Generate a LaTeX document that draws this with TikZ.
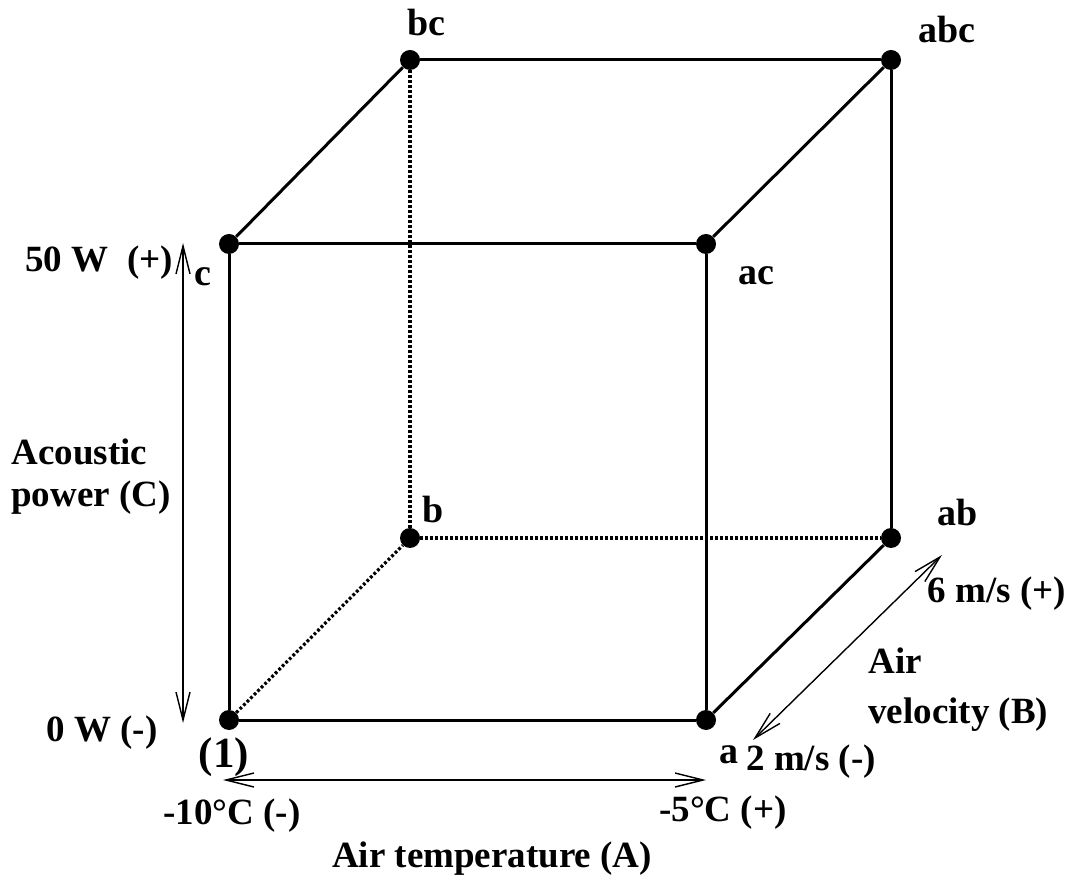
\documentclass[tikz,border=0pt]{standalone}
\usepackage{fontspec}
\setmainfont{Liberation Serif}
\usetikzlibrary{arrows.meta,positioning}

\begin{document}
\begin{tikzpicture}[
  x=0.5pt, y=-0.5pt,
  vertex/.style={circle, fill, inner sep=0pt, minimum size=10pt},
  vertex label/.style={font=\bfseries\fontsize{19}{22}\selectfont, inner sep=0pt},
  axis label/.style={font=\bfseries\fontsize{18.5}{21}\selectfont, inner sep=0pt, align=left},
  edge/.style={line width=1.5pt},
  hidden edge/.style={line width=1.6pt, dash pattern=on 1.4pt off 1.1pt},
  range arrow/.style={<->, line width=0.7pt},
  >={Straight Barb[length=14pt, width=7pt]}
]
  \useasboundingbox (0,0) rectangle (1065,881);

  % corners of the cube
  \node[vertex] (v1)  at (229,720) {};
  \node[vertex] (a)   at (706,720) {};
  \node[vertex] (b)   at (410,538) {};
  \node[vertex] (ab)  at (891,538) {};
  \node[vertex] (c)   at (229,244) {};
  \node[vertex] (ac)  at (706,244) {};
  \node[vertex] (bc)  at (410,60)  {};
  \node[vertex] (abc) at (891,60)  {};

  \node[vertex label, font=\bfseries\fontsize{21.5}{24}\selectfont] (l1) at (224,757) {(1)};
  \node[vertex label] (la)   at (729,755) {a};
  \node[vertex label] (lb)   at (433,510) {b};
  \node[vertex label] (lab)  at (958,513) {ab};
  \node[vertex label] (lc)   at (203,277) {c};
  \node[vertex label] (lac)  at (756,276) {ac};
  \node[vertex label] (lbc)  at (426,23)  {bc};
  \node[vertex label] (labc) at (947,30)  {abc};

  % edges
  \draw[edge] (v1) -- (a);
  \draw[edge] (v1) -- (c);
  \draw[edge] (a) -- (ac);
  \draw[edge] (c) -- (ac);
  \draw[edge] (a) -- (ab);
  \draw[edge] (c) -- (bc);
  \draw[edge] (ac) -- (abc);
  \draw[edge] (bc) -- (abc);
  \draw[edge] (ab) -- (abc);
  \draw[hidden edge] (v1) -- (b);
  \draw[hidden edge] (b) -- (ab);
  \draw[hidden edge] (b) -- (bc);

  % factor ranges
  \coordinate (C hi) at (183,243);
  \coordinate (C lo) at (183,723);
  \coordinate (A lo) at (223,780);
  \coordinate (A hi) at (706,780);
  \coordinate (B lo) at (753,740);
  \coordinate (B hi) at (942,555);
  \draw[range arrow] (C lo) -- (C hi);
  \draw[range arrow] (A lo) -- (A hi);
  \draw[range arrow] (B lo) -- (B hi);

  \node[axis label] (c plus)  at (99,263) {50 W~~(+)};
  \node[axis label] (c minus) at (102,733) {0 W (-)};
  \node[axis label, anchor=north west] (c name) at (11,438) {Acoustic\\power (C)};
  \node[axis label] (a minus) at (232,816) {-10°C (-)};
  \node[axis label] (a plus)  at (723,813) {-5°C (+)};
  \node[axis label] (a name)  at (492,859) {Air temperature (A)};
  \node[axis label] (b minus) at (811,762) {2 m/s (-)};
  \node[axis label] (b plus)  at (997,594) {6 m/s (+)};
  \node[axis label, anchor=north west] (b name) at (868,647) {Air\\[4pt]velocity (B)};
\end{tikzpicture}
\end{document}
